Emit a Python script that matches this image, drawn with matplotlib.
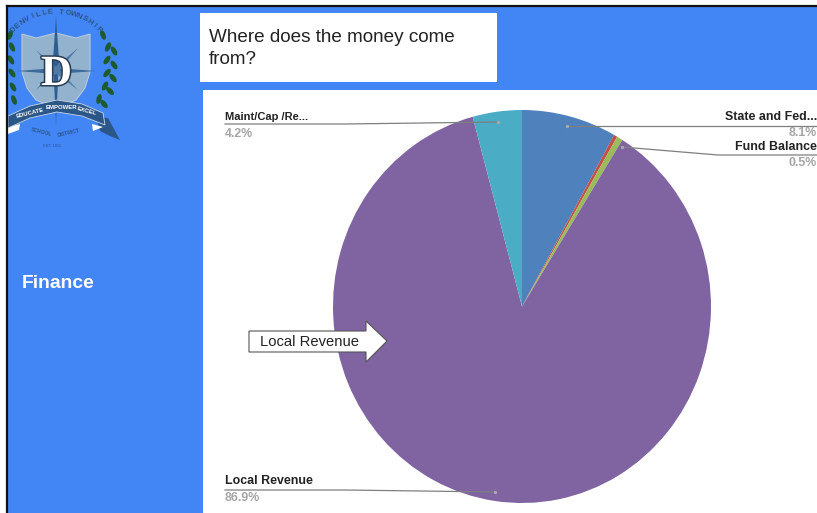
import numpy as np
import matplotlib
matplotlib.use("Agg")
import matplotlib.pyplot as plt
import matplotlib.patheffects as pe
from matplotlib.patches import Rectangle, Polygon, Ellipse

plt.rcParams['font.family'] = ['Liberation Sans', 'DejaVu Sans']

# slices, clockwise from the top
labels = ["State and Fed...", "Other", "Fund Balance", "Local Revenue", "Maint/Cap /Re..."]
shares = [8.1, 0.3, 0.5, 86.9, 4.2]
colors = ["#4f81bd", "#c0504d", "#9bbb59", "#8064a2", "#4bacc6"]

BLUE = "#4285f4"
W, H = 817, 513

fig = plt.figure(figsize=(W / 100, H / 100), dpi=100)
bg = fig.add_axes([0, 0, 1, 1])
bg.set_xlim(0, W)
bg.set_ylim(H, 0)
bg.axis("off")

# slide background
bg.add_patch(Rectangle((8, 6), W - 8, H - 6, fc=BLUE, ec="none"))
bg.add_patch(Rectangle((200, 13), 297, 69, fc="white", ec="none"))
bg.add_patch(Rectangle((203, 90), W - 203, H - 90, fc="white", ec="none"))
bg.text(209, 37.5, "Where does the money come", fontsize=13.6, color="#222222", va="center")
bg.text(209, 60, "from?", fontsize=13.6, color="#222222", va="center")
bg.text(22, 283, "Finance", fontsize=13.9, color="white", weight="bold", va="center")

# logo: shield
shield = [(22, 34), (36, 38), (56, 33), (76, 38), (90, 34), (90, 72), (85, 88),
          (76, 100), (56, 108), (36, 100), (27, 88), (22, 72)]
bg.add_patch(Polygon(shield, fc="#93b2cd", ec="#b6cadd", lw=0.8))
bg.add_patch(Polygon([(56, 16), (59, 60), (56, 124), (53, 60)], fc="#2f5f92", ec="none"))
bg.add_patch(Polygon([(17, 71), (56, 68), (96, 71), (56, 74)], fc="#3d6a98", ec="none"))
bg.add_patch(Polygon([(36, 50), (58, 69), (78, 90), (54, 72)], fc="#4f7ba6", ec="none"))
bg.add_patch(Polygon([(78, 48), (58, 72), (36, 90), (54, 68)], fc="#4f7ba6", ec="none"))
bg.text(56.5, 75, "D", fontsize=31, weight="bold", color="white", ha="center", va="center",
        family=["Liberation Serif"],
        path_effects=[pe.withStroke(linewidth=2.2, foreground="#2b3d55")])

# logo: laurel leaves
leaf_right = [(103, 35, -20), (108, 47, 25), (114, 51, -30), (107, 60, 35), (114, 65, -35),
              (107, 73, 40), (113, 78, -40), (105, 86, 30), (110, 91, -45), (99, 99, 15), (104, 104, -40)]
leaf_left = [(10, 35, 20), (12, 47, -25), (11, 60, -30), (12, 73, -35), (13, 87, -30), (14, 100, -20)]
for x, y, tilt in leaf_right + leaf_left:
    bg.add_patch(Ellipse((x, y), 5, 10, angle=tilt, fc="#1d5a2e", ec="none"))

# logo: ring text and ribbon
ring = "DENVILLE TOWNSHIP"
ang = np.radians(np.linspace(-136, -44, len(ring)))
for c, a in zip(ring, ang):
    bg.text(56 + 59 * np.cos(a), 71 + 59 * np.sin(a), c, fontsize=5.6, weight="bold",
            color="#2b5688", ha="center", va="center", rotation=-np.degrees(a) - 90)

rib_top = np.array([[8, 116], [30, 106], [57, 100], [82, 104], [103, 113]])
rib_bot = np.array([[8, 128], [30, 118], [57, 112], [82, 116], [105, 125]])
bg.add_patch(Polygon([(96, 117), (108, 118), (120, 140), (110, 136), (100, 131)], fc="#2b5688", ec="none"))
bg.add_patch(Polygon([(92, 124), (103, 127), (93, 131)], fc="white", ec="none"))
bg.add_patch(Polygon([(8, 127), (20, 124), (19, 130), (8, 134)], fc="white", ec="none"))
bg.add_patch(Polygon(np.vstack([rib_top, rib_bot[::-1]]), fc="#2b5688", ec="#c9d8e6", lw=0.6))
for word, x, y, rot in [("EDUCATE", 30, 113, 14), ("EMPOWER", 61, 107.5, 0), ("EXCEL", 87, 111.5, -15)]:
    bg.text(x, y, word, fontsize=4.3, weight="bold", color="white", ha="center", va="center", rotation=rot)
for word, x, y, rot in [("SCHOOL", 42, 132, -14), ("DISTRICT", 68, 133, 13)]:
    bg.text(x, y, word, fontsize=3.6, weight="bold", color="#2b5688", ha="center", va="center", rotation=rot)
bg.text(52, 146, "EST. 1911", fontsize=2.8, color="#2b5688", ha="center", va="center")

# frame goes over the logo
bg.add_patch(Rectangle((0, 0), 7, H, fc="white", ec="none", zorder=5))
bg.plot([7.5, 7.5], [5.5, H], color="#111111", lw=1.6, zorder=6)
bg.plot([7.5, W], [5.5, 5.5], color="#111111", lw=1.6, zorder=6)

# pie, slightly stretched vertically like the screenshot
cx, cy, rx, ry = 522, 306.5, 189, 196.5
pie_ax = fig.add_axes([(cx - rx) / W, 1 - (cy + ry) / H, 2 * rx / W, 2 * ry / H])
pie_ax.pie(shares, colors=colors, startangle=90, counterclock=False, radius=1,
           wedgeprops={"linewidth": 0})
pie_ax.set_aspect("auto")
pie_ax.set_xlim(-1, 1)
pie_ax.set_ylim(-1, 1)
pie_ax.axis("off")

# overlay for labels and leader lines, above the pie
top = fig.add_axes([0, 0, 1, 1], facecolor="none")
top.set_xlim(0, W)
top.set_ylim(H, 0)
top.axis("off")

LINE = "#7f7f7f"
GREY = "#a6a6a6"
leaders = [
    ([225, 345, 498], [124, 124, 122]),
    ([225, 345, 495], [490, 490, 492]),
    ([817, 600, 567], [126, 126, 126]),
    ([817, 718, 622], [155, 155, 147]),
]
for xs, ys in leaders:
    top.plot(xs, ys, color=LINE, lw=0.9)
    top.plot(xs[-1], ys[-1], "o", ms=2.4, color="#a9a9a9", mec="none")

lab_fs = 8.9
top.text(225, 117, labels[4], fontsize=8.0, weight="bold", color="#222222", va="center")
top.text(225, 134, f"{shares[4]}%", fontsize=lab_fs, weight="bold", color=GREY, va="center")
top.text(225, 481.5, labels[3], fontsize=lab_fs, weight="bold", color="#222222", va="center")
top.text(225, 498, f"{shares[3]}%", fontsize=lab_fs, weight="bold", color=GREY, va="center")
top.text(817, 117, labels[0], fontsize=lab_fs, weight="bold", color="#222222", va="center", ha="right")
top.text(817, 133, f"{shares[0]}%", fontsize=lab_fs, weight="bold", color=GREY, va="center", ha="right")
top.text(817, 147, labels[2], fontsize=lab_fs, weight="bold", color="#222222", va="center", ha="right")
top.text(817, 163, f"{shares[2]}%", fontsize=lab_fs, weight="bold", color=GREY, va="center", ha="right")

# callout arrow
arrow = [(249, 331), (366, 331), (366, 321), (387, 341), (366, 362), (366, 352), (249, 352)]
top.add_patch(Polygon(arrow, fc="white", ec="#555555", lw=0.8))
top.text(260, 342.5, "Local Revenue", fontsize=10.6, color="#222222", va="center")

fig.savefig("out.png", dpi=100)
